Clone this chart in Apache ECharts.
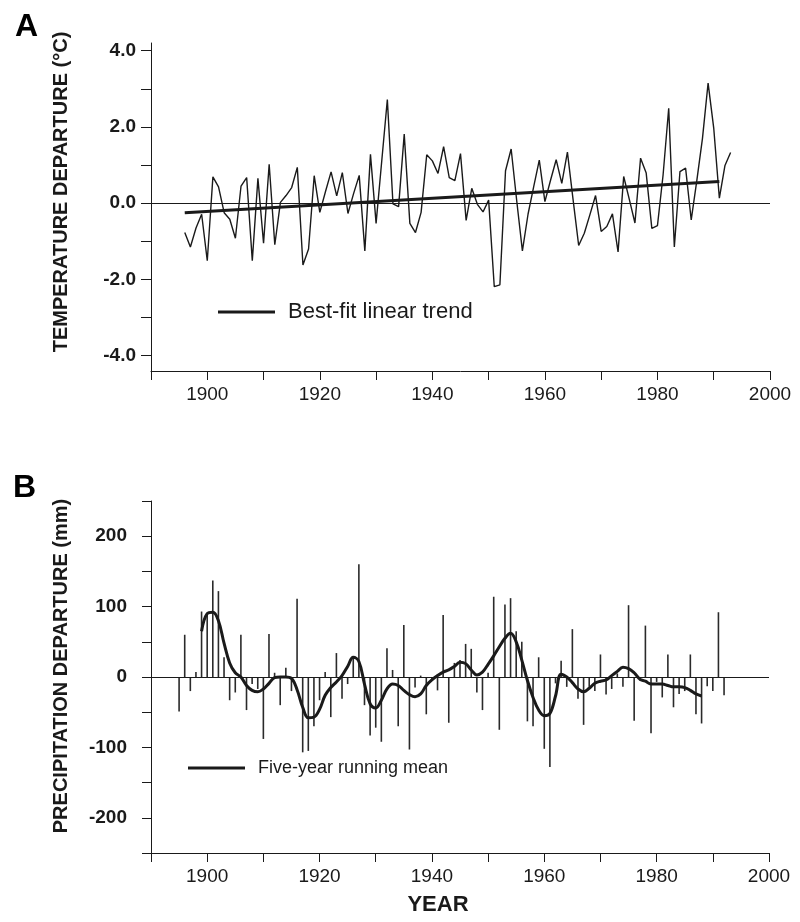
<!DOCTYPE html>
<html>
<head>
<meta charset="utf-8">
<script src="https://cdn.jsdelivr.net/npm/echarts@6/dist/echarts.min.js"></script>
<style>
  html, body { margin: 0; padding: 0; background: #fff; }
  #chart { width: 800px; height: 922px; }
</style>
</head>
<body>
<div id="chart"></div>
<script>
// panel A: annual temperature departure (deg C), one value per year from tempFirstYear
var tempFirstYear = 1896;
var tempValues = [
  -0.77, -1.15, -0.65, -0.29, -1.51, 0.69, 0.43, -0.25, -0.42, -0.92,
  0.45, 0.67, -1.51, 0.65, -1.05, 1.02, -1.09, 0.02, 0.20, 0.41,
  0.94, -1.62, -1.20, 0.72, -0.24, 0.30, 0.82, 0.19, 0.80, -0.27,
  0.25, 0.73, -1.25, 1.28, -0.53, 1.10, 2.72, -0.02, -0.09, 1.81,
  -0.53, -0.77, -0.24, 1.27, 1.11, 0.78, 1.48, 0.67, 0.59, 1.30,
  -0.45, 0.39, -0.03, -0.23, 0.08, -2.19, -2.14, 0.85, 1.42, 0.05,
  -1.25, -0.29, 0.43, 1.13, 0.04, 0.60, 1.14, 0.52, 1.34, 0.10,
  -1.11, -0.79, -0.30, 0.20, -0.74, -0.61, -0.28, -1.28, 0.70, 0.10,
  -0.52, 1.18, 0.79, -0.66, -0.59, 0.74, 2.49, -1.15, 0.83, 0.92,
  -0.44, 0.60, 1.70, 3.15, 1.97, 0.13, 0.99, 1.33
];
// best-fit linear trend end points
var trendYears = [1896, 1991];
var trendValues = [-0.25, 0.57];

// panel B: annual precipitation departure (mm)
var precipFirstYear = 1895;
var precipValues = [
  -49, 60, -20, 7, 93, 88, 137, 122, 28, -33,
  -22, 60, -47, -10, -17, -88, 61, 6, -40, 13,
  -20, 111, -107, -105, -70, -33, 7, -57, 34, -31,
  -10, 29, 160, -40, -83, -72, -92, 41, 10, -70,
  74, -103, -15, 2, -53, -5, -19, 88, -65, 20,
  24, 47, 40, -22, -47, 6, 114, -75, 103, 112,
  65, 50, -63, -70, 28, -102, -128, -9, 23, -14,
  68, -31, -68, -14, -20, 32, -25, -17, 5, -14,
  102, -62, -5, 73, -80, -7, -29, 32, -43, -24,
  -20, 32, -53, -66, -13, -20, 92, -26
];
// five-year running mean
var meanFirstYear = 1899;
var meanValues = [
  65, 90, 92, 80, 48, 20, 6, 0, -12, -19,
  -21, -17, -9, -1, 0, 0, -2, -18, -43, -58,
  -57, -46, -26, -15, -7, 2, 15, 28, 22, -10,
  -38, -44, -33, -17, -10, -12, -19, -25, -28, -24,
  -12, -4, 2, 7, 10, 15, 21, 19, 10, 3,
  7, 18, 30, 43, 55, 62, 50, 24, -5, -29,
  -47, -55, -52, -27, 4, 0, -8, -17, -21, -16,
  -9, -6, -4, 2, 8, 14, 12, 6, -3, -6,
  -10, -10, -10, -12, -14, -14, -15, -19, -24, -27
];

var tempTicks = [-4, -3, -2, -1, 0, 1, 2, 3, 4];
var tempLabels = [-4, -2, 0, 2, 4];

function pairs(first, vals) {
  return vals.map(function (v, i) { return [first + i, v]; });
}

var ink = '#1a1a1a';
var font = 'Liberation Sans, Arial, sans-serif';

var chart = echarts.init(document.getElementById('chart'), null, { renderer: 'canvas' });

function xAxisCfg(idx, extra) {
  var a = {
    type: 'value', gridIndex: idx, min: 1890, max: 2000, interval: 10,
    axisLine: { onZero: false, lineStyle: { color: ink, width: 1 } },
    axisTick: { length: 9, lineStyle: { color: ink } },
    axisLabel: {
      margin: 14, color: ink, fontSize: 19, fontFamily: font,
      formatter: function (v) { return v % 20 === 0 ? String(v) : ''; }
    },
    splitLine: { show: false }
  };
  return Object.assign(a, extra || {});
}

var zeroLine = {
  symbol: 'none', silent: true, label: { show: false },
  lineStyle: { color: ink, width: 1, type: 'solid' },
  data: [{ yAxis: 0 }]
};

var option = {
  animation: false,
  backgroundColor: '#fff',
  title: [
    { text: 'A', left: 10, top: 6, textStyle: { fontSize: 32, fontWeight: 'bold', color: '#000', fontFamily: font } },
    { text: 'B', left: 8, top: 467, textStyle: { fontSize: 32, fontWeight: 'bold', color: '#000', fontFamily: font } }
  ],
  legend: [
    {
      left: 213, top: 296, icon: 'rect', itemWidth: 57, itemHeight: 3,
      data: ['Best-fit linear trend'],
      textStyle: { fontSize: 22, color: ink, fontFamily: font, padding: [0, 0, 0, 8] },
      selectedMode: false
    },
    {
      left: 183, top: 754, icon: 'rect', itemWidth: 57, itemHeight: 3,
      data: ['Five-year running mean'],
      textStyle: { fontSize: 18, color: ink, fontFamily: font, padding: [0, 0, 0, 8] },
      selectedMode: false
    }
  ],
  grid: [
    { left: 151, right: 30, top: 43, height: 328 },
    { left: 151, right: 31, top: 501, height: 352 }
  ],
  xAxis: [
    xAxisCfg(0),
    xAxisCfg(1, {
      name: 'YEAR', nameLocation: 'middle', nameGap: 41,
      nameTextStyle: { fontSize: 22, fontWeight: 'bold', color: ink, fontFamily: font, padding: [0, 44, 0, 0] }
    })
  ],
  yAxis: [
    {
      type: 'value', gridIndex: 0, min: -4.4, max: 4.2,
      name: 'TEMPERATURE DEPARTURE (°C)', nameLocation: 'middle', nameGap: 80,
      nameTextStyle: { fontSize: 20, fontWeight: 'bold', color: ink, fontFamily: font, padding: [0, 0, 0, 30] },
      axisLine: { onZero: false, lineStyle: { color: ink, width: 1 } },
      axisTick: { length: 10, customValues: tempTicks, lineStyle: { color: ink } },
      axisLabel: {
        margin: 15, color: ink, fontSize: 19, fontWeight: 'bold', fontFamily: font,
        customValues: tempLabels,
        formatter: function (v) { return v.toFixed(1); }
      },
      splitLine: { show: false }
    },
    {
      type: 'value', gridIndex: 1, min: -250, max: 250, interval: 50,
      name: 'PRECIPITATION DEPARTURE (mm)', nameLocation: 'middle', nameGap: 80,
      nameTextStyle: { fontSize: 20, fontWeight: 'bold', color: ink, fontFamily: font, padding: [0, 0, 0, 22] },
      axisLine: { onZero: false, lineStyle: { color: ink, width: 1 } },
      axisTick: { length: 9, lineStyle: { color: ink } },
      axisLabel: {
        margin: 24, color: ink, fontSize: 19, fontWeight: 'bold', fontFamily: font,
        formatter: function (v) { return v % 100 === 0 ? String(v) : ''; }
      },
      splitLine: { show: false }
    }
  ],
  series: [
    {
      name: 'Temperature', type: 'line', xAxisIndex: 0, yAxisIndex: 0,
      data: pairs(tempFirstYear, tempValues),
      showSymbol: false, color: ink,
      lineStyle: { width: 1.4, color: ink },
      markLine: zeroLine, z: 2
    },
    {
      name: 'Best-fit linear trend', type: 'line', xAxisIndex: 0, yAxisIndex: 0,
      data: trendYears.map(function (y, i) { return [y, trendValues[i]]; }),
      showSymbol: false, color: ink,
      lineStyle: { width: 3, color: ink }, z: 3
    },
    {
      name: 'Precipitation', type: 'bar', xAxisIndex: 1, yAxisIndex: 1,
      data: pairs(precipFirstYear, precipValues),
      barWidth: 1.6, itemStyle: { color: '#2a2a2a' },
      markLine: zeroLine, z: 2
    },
    {
      name: 'Five-year running mean', type: 'line', xAxisIndex: 1, yAxisIndex: 1,
      data: pairs(meanFirstYear, meanValues),
      smooth: 0.4, showSymbol: false, color: ink,
      lineStyle: { width: 3, color: ink }, z: 3
    }
  ]
};

chart.setOption(option);
window.addEventListener('resize', function () { chart.resize(); });
</script>
</body>
</html>
